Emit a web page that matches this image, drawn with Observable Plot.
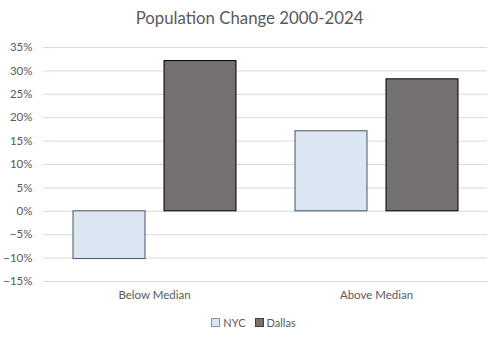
<!DOCTYPE html>
<html>
<head>
<meta charset="utf-8">
<script src="https://cdn.jsdelivr.net/npm/d3@7"></script>
<script src="https://cdn.jsdelivr.net/npm/@observablehq/plot@0.6"></script>
<style>
  body { margin: 0; background: #fff; font-family: Lato, "Open Sans", sans-serif; }
  #wrap { width: 499px; height: 341px; position: relative; }
  #title { height: 36px; line-height: 36px; text-align: center; font-size: 16.8px; color: #595959; }
  #legend { display: flex; justify-content: center; gap: 9px; font-size: 11px; color: #595959; margin-top: 10px; padding-left: 8px; }
  #legend span.item { display: inline-flex; align-items: center; gap: 3px; }
  #legend span.sw { display: inline-block; width: 7px; height: 7px; }
</style>
</head>
<body>
<div id="wrap">
  <div id="title">Population Change 2000-2024</div>
  <div id="chart"></div>
  <div id="legend"></div>
</div>
<script>
const categories = ["Below Median", "Above Median"];
const series = ["NYC", "Dallas"];
const nycValues = [-0.102, 0.171];
const dallasValues = [0.321, 0.282];
const yTicks = [-0.15, -0.10, -0.05, 0, 0.05, 0.10, 0.15, 0.20, 0.25, 0.30, 0.35];
const fills = { NYC: "#dce6f2", Dallas: "#767171" };
const strokes = { NYC: "#44546a", Dallas: "#000000" };

const data = [];
categories.forEach((c, i) => {
  data.push({ category: c, series: "NYC", value: nycValues[i] });
  data.push({ category: c, series: "Dallas", value: dallasValues[i] });
});

const chart = Plot.plot({
  width: 499,
  height: 270,
  marginTop: 11,
  marginBottom: 25,
  marginLeft: 43,
  marginRight: 12,
  style: { fontFamily: "Lato, 'Open Sans', sans-serif", fontSize: "11.5px", color: "#595959", background: "transparent" },
  fx: { domain: categories, padding: 0, label: null, tickSize: 0, tickPadding: 9, axis: "bottom" },
  x: { domain: series, paddingInner: 0.209, paddingOuter: 0.319, axis: null },
  y: { domain: [-0.15, 0.35], ticks: yTicks, tickFormat: d3.format(".0%"), tickSize: 0, tickPadding: 11, label: null },
  color: { domain: series, range: series.map(s => fills[s]) },
  marks: [
    Plot.ruleY(yTicks, { stroke: "#d9d9d9", strokeWidth: 1 }),
    Plot.barY(data, {
      fx: "category",
      x: "series",
      y: "value",
      fill: "series",
      stroke: d => strokes[d.series],
      strokeWidth: 1,
      inset: 0
    })
  ]
});
document.getElementById("chart").appendChild(chart);

const legend = document.getElementById("legend");
series.forEach(s => {
  const item = document.createElement("span");
  item.className = "item";
  const sw = document.createElement("span");
  sw.className = "sw";
  sw.style.background = fills[s];
  sw.style.border = "1px solid " + (s === "NYC" ? "#8497b0" : "#404040");
  item.appendChild(sw);
  const t = document.createElement("span");
  t.textContent = s;
  item.appendChild(t);
  legend.appendChild(item);
});
</script>
</body>
</html>
